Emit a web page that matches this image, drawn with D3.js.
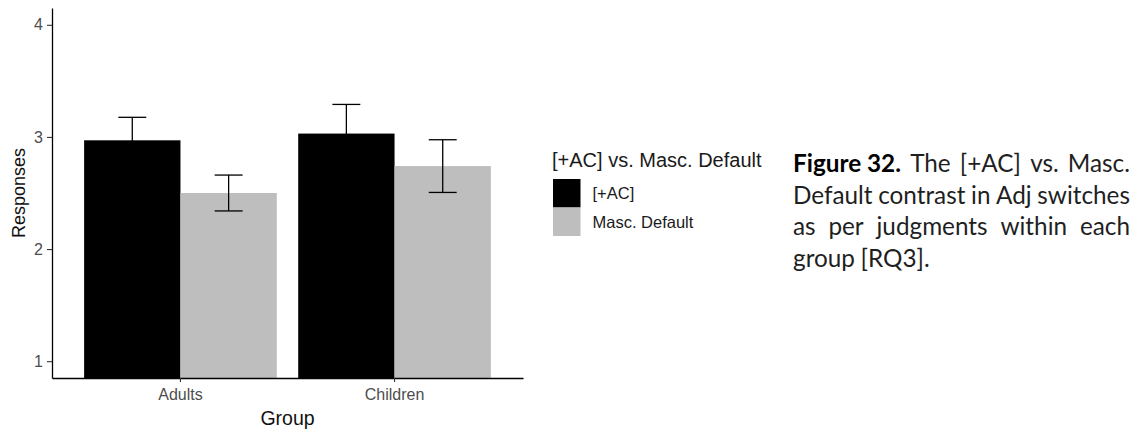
<!DOCTYPE html>
<html>
<head>
<meta charset="utf-8">
<script src="https://cdn.jsdelivr.net/npm/d3@7"></script>
<style>
  html, body { margin: 0; padding: 0; background: #fff; }
  svg { display: block; }
</style>
</head>
<body>
<svg id="chart" width="1138" height="432"></svg>
<script>
// Mean responses per group and condition, with error bar half-widths
const groups = ["Adults", "Children"];
const series = ["[+AC]", "Masc. Default"];
const acMeans = [2.97, 3.03];
const acErrors = [0.205, 0.26];
const mascMeans = [2.50, 2.74];
const mascErrors = [0.16, 0.235];
const yTicks = [1, 2, 3, 4];
const seriesColors = ["#000000", "#bebebe"];

const legendTitle = "[+AC] vs. Masc. Default";
const xTitle = "Group";
const yTitle = "Responses";

// Caption lines (justified column); first entry of line one is set in bold
const captionLines = [
  [{ t: "Figure 32.", b: true }, { t: "The" }, { t: "[+AC]" }, { t: "vs." }, { t: "Masc." }],
  [{ t: "Default" }, { t: "contrast" }, { t: "in" }, { t: "Adj" }, { t: "switches" }],
  [{ t: "as" }, { t: "per" }, { t: "judgments" }, { t: "within" }, { t: "each" }],
  [{ t: "group" }, { t: "[RQ3]." }]
];

const rows = groups.map((g, i) => ({
  group: g,
  values: [
    { key: series[0], mean: acMeans[i], err: acErrors[i] },
    { key: series[1], mean: mascMeans[i], err: mascErrors[i] }
  ]
}));

const svg = d3.select("#chart");
const plot = { left: 52, right: 523, top: 8, bottom: 378 };

const x = d3.scaleBand()
  .domain(groups)
  .range([plot.left, plot.right])
  .paddingInner(0.1)
  .paddingOuter(0.15);

const xs = d3.scaleBand()
  .domain(series)
  .range([0, x.bandwidth()])
  .padding(0);

const y = d3.scaleLinear()
  .domain([0.85, 4.15])
  .range([plot.bottom, plot.top])
  .clamp(true);

const color = d3.scaleOrdinal().domain(series).range(seriesColors);

// Bars (base at zero, clipped to the panel by the clamped scale)
const g = svg.append("g");
const groupSel = g.selectAll("g.grp")
  .data(rows)
  .join("g")
  .attr("class", "grp")
  .attr("transform", d => `translate(${x(d.group)},0)`);

groupSel.selectAll("rect")
  .data(d => d.values)
  .join("rect")
  .attr("x", d => xs(d.key))
  .attr("width", xs.bandwidth())
  .attr("y", d => y(d.mean))
  .attr("height", d => y(0) - y(d.mean))
  .attr("fill", d => color(d.key));

// Error bars
const whisker = xs.bandwidth() * 0.29;
const eb = groupSel.selectAll("g.eb")
  .data(d => d.values)
  .join("g")
  .attr("class", "eb")
  .attr("stroke", "#000")
  .attr("stroke-width", 1.3)
  .attr("fill", "none");

const cx = d => xs(d.key) + xs.bandwidth() / 2;
eb.append("line")
  .attr("x1", cx).attr("x2", cx)
  .attr("y1", d => y(d.mean - d.err))
  .attr("y2", d => y(d.mean + d.err));
eb.append("line")
  .attr("x1", d => cx(d) - whisker / 2)
  .attr("x2", d => cx(d) + whisker / 2)
  .attr("y1", d => y(d.mean + d.err))
  .attr("y2", d => y(d.mean + d.err));
eb.append("line")
  .attr("x1", d => cx(d) - whisker / 2)
  .attr("x2", d => cx(d) + whisker / 2)
  .attr("y1", d => y(d.mean - d.err))
  .attr("y2", d => y(d.mean - d.err));

// Axes
const axisFont = "'Liberation Sans', Arial, sans-serif";

const yAxis = svg.append("g")
  .attr("transform", `translate(${plot.left},0)`)
  .call(d3.axisLeft(y).tickValues(yTicks).tickFormat(d3.format("d")).tickSize(5).tickSizeOuter(0).tickPadding(4));

const xAxis = svg.append("g")
  .attr("transform", `translate(0,${plot.bottom})`)
  .call(d3.axisBottom(x).tickSize(4).tickSizeOuter(0).tickPadding(7));

[xAxis, yAxis].forEach(a => {
  a.select(".domain").attr("stroke", "#000").attr("stroke-width", 1.3);
  a.selectAll(".tick line").attr("stroke", "#333").attr("stroke-width", 1.1);
  a.selectAll(".tick text")
    .attr("fill", "#4d4d4d")
    .style("font-family", axisFont)
    .style("font-size", "16px");
});

// Axis titles
svg.append("text")
  .attr("x", (plot.left + plot.right) / 2)
  .attr("y", 425)
  .attr("text-anchor", "middle")
  .style("font-family", axisFont)
  .style("font-size", "19.5px")
  .attr("fill", "#111")
  .text(xTitle);

svg.append("text")
  .attr("transform", `translate(25,${(plot.top + plot.bottom) / 2}) rotate(-90)`)
  .attr("text-anchor", "middle")
  .style("font-family", axisFont)
  .style("font-size", "18px")
  .attr("fill", "#111")
  .text(yTitle);

// Legend
const legend = svg.append("g").attr("transform", "translate(552,0)");
legend.append("text")
  .attr("x", 0)
  .attr("y", 167)
  .style("font-family", axisFont)
  .style("font-size", "20px")
  .attr("fill", "#1a1a1a")
  .text(legendTitle);

const keyH = 28.5, keyW = 27.5, keyTop = 179;
const item = legend.selectAll("g.item")
  .data(series)
  .join("g")
  .attr("class", "item")
  .attr("transform", (d, i) => `translate(0,${keyTop + i * keyH})`);
item.append("rect")
  .attr("x", 1)
  .attr("width", keyW)
  .attr("height", keyH)
  .attr("fill", d => color(d));
item.append("text")
  .attr("x", 40.5)
  .attr("y", keyH / 2)
  .attr("dy", "0.36em")
  .style("font-family", axisFont)
  .style("font-size", "16.5px")
  .attr("fill", "#1a1a1a")
  .text(d => d);

// Caption: justified text column, one <text> per word
const cap = { left: 793, right: 1130, top: 172, lineGap: 31.5, size: 21 };
const capFont = "Lato, 'Open Sans', sans-serif";
const capG = svg.append("g");

const words = [];
captionLines.forEach((line, li) => {
  line.forEach((w, wi) => {
    const node = capG.append("text")
      .attr("x", cap.left)
      .attr("y", cap.top + li * cap.lineGap)
      .style("font-family", capFont)
      .style("font-size", cap.size + "px")
      .style("font-weight", w.b ? "700" : "400")
      .attr("fill", w.b ? "#000" : "#1f1f1f")
      .text(w.t);
    words.push({ li, wi, node });
  });
});

function layoutCaption() {
  const colW = cap.right - cap.left;
  // scale the type so the widest natural line fills the column
  const base = cap.size;
  const natural = captionLines.map((line, li) => {
    const ws = words.filter(w => w.li === li).map(w => w.node.node().getComputedTextLength());
    return { ws, sum: d3.sum(ws) };
  });
  const spaceRatio = 0.23;
  const widest = d3.max(natural, (n, li) => n.sum + base * spaceRatio * (captionLines[li].length - 1));
  const k = colW / widest;
  const size = base * k;
  words.forEach(w => w.node.style("font-size", size + "px"));
  captionLines.forEach((line, li) => {
    const ws = natural[li].ws.map(v => v * k);
    const isLast = li === captionLines.length - 1;
    const gap = isLast ? size * spaceRatio : (colW - d3.sum(ws)) / (line.length - 1);
    let xPos = cap.left;
    words.filter(w => w.li === li).forEach((w, i) => {
      w.node.attr("x", xPos);
      xPos += ws[i] + gap;
    });
  });
}
layoutCaption();
if (document.fonts && document.fonts.ready) {
  document.fonts.ready.then(() => {
    words.forEach(w => w.node.style("font-size", cap.size + "px"));
    layoutCaption();
  });
}
</script>
</body>
</html>
